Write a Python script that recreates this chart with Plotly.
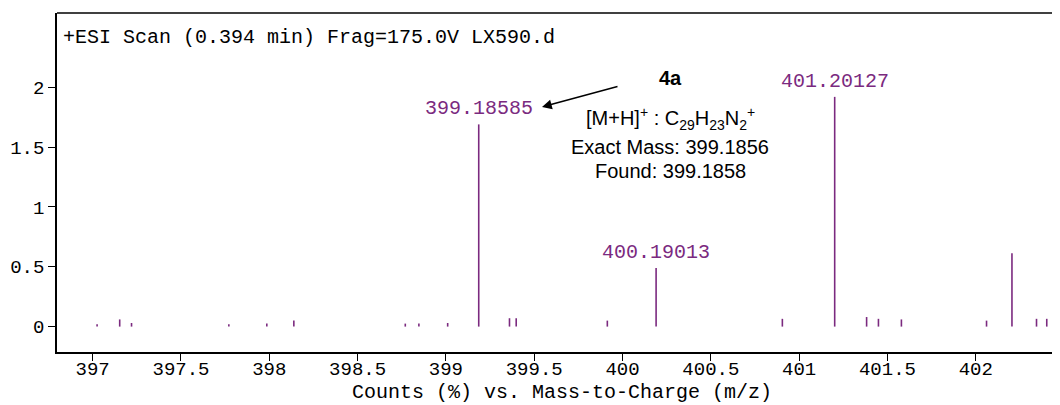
import plotly.graph_objects as go

# ---- data ----
main_mz = [399.18585, 400.19013, 401.20127, 402.205]
main_h = [1.69, 0.49, 1.92, 0.612]
main_labels = ["399.18585", "400.19013", "401.20127", ""]

small_mz = [397.025, 397.153, 397.22, 397.771, 397.986, 398.139, 398.770, 398.847,
            399.01, 399.36, 399.398, 399.914, 400.905, 401.382, 401.449, 401.579,
            402.061, 402.344, 402.402, 402.459]
small_h = [0.02, 0.06, 0.03, 0.02, 0.025, 0.05, 0.025, 0.025,
           0.03, 0.07, 0.07, 0.05, 0.065, 0.08, 0.065, 0.06,
           0.05, 0.065, 0.065, 0.065]

x_ticks = [397, 397.5, 398, 398.5, 399, 399.5, 400, 400.5, 401, 401.5, 402]
x_ticklabels = ["397", "397.5", "398", "398.5", "399", "399.5", "400", "400.5", "401", "401.5", "402"]
y_ticks = [0, 0.5, 1, 1.5, 2]
y_ticklabels = ["0", "0.5", "1", "1.5", "2"]

PURPLE = "#7b2a7f"
MONO = "Liberation Mono"
SANS = "Liberation Sans"

# page offset (body margin) and figure geometry
OFF = 8
W, H = 1060 - OFF, 405 - OFF
L, T, B, R = 49, 5, 53, 0
PW, PH = W - L - R, H - T - B


def px(x):
    return (x - OFF - L) / PW


def py(y):
    return 1 - (y - OFF - T) / PH


all_mz = small_mz + main_mz
all_h = small_h + main_h
xs, ys = [], []
for m, h in zip(all_mz, all_h):
    xs += [m, m, None]
    ys += [0, h, None]

fig = go.Figure()
fig.add_trace(go.Scatter(x=xs, y=ys, mode="lines",
                         line=dict(color=PURPLE, width=1.6),
                         hoverinfo="skip", showlegend=False))

annotations = []
for m, h, lab in zip(main_mz, main_h, main_labels):
    if lab:
        annotations.append(dict(x=m, y=h, xref="x", yref="y", text=lab,
                                showarrow=False, xanchor="center", yanchor="bottom", yshift=2,
                                font=dict(family=MONO, size=20, color=PURPLE)))

# scan header inside plot
annotations.append(dict(x=px(61), y=py(37), xref="paper", yref="paper",
                        xanchor="left", yanchor="middle", showarrow=False,
                        text="+ESI Scan (0.394 min) Frag=175.0V LX590.d",
                        font=dict(family=MONO, size=20, color="black")))

# compound annotation
for txt, yy in [("<b>4a</b>", 78),
                ("[M+H]<sup>+</sup> : C<sub>29</sub>H<sub>23</sub>N<sub>2</sub><sup>+</sup>", 118),
                ("Exact Mass: 399.1856", 146.5),
                ("Found: 399.1858", 171)]:
    annotations.append(dict(x=px(670), y=py(yy), xref="paper", yref="paper",
                            xanchor="center", yanchor="middle", showarrow=False,
                            text=txt, font=dict(family=SANS, size=20, color="black")))

# x-axis title
annotations.append(dict(x=px(562), y=py(392), xref="paper", yref="paper",
                        xanchor="center", yanchor="middle", showarrow=False,
                        text="Counts (%) vs. Mass-to-Charge (m/z)",
                        font=dict(family=MONO, size=20, color="black")))

# arrow
annotations.append(dict(x=px(542), y=py(107), xref="paper", yref="paper",
                        ax=619 - 542, ay=86 - 107, axref="pixel", ayref="pixel",
                        showarrow=True, arrowhead=2, arrowsize=1.3, arrowwidth=1.5,
                        arrowcolor="black", text=""))

fig.update_layout(
    width=W, height=H,
    margin=dict(l=L, r=R, t=T, b=B, pad=0),
    paper_bgcolor="white", plot_bgcolor="white",
    annotations=annotations,
    xaxis=dict(range=[396.798, 402.477], tickvals=x_ticks, ticktext=x_ticklabels,
               showgrid=False, zeroline=False, showline=True, linecolor="black", linewidth=2,
               ticks="outside", ticklen=7, tickcolor="black", tickwidth=1,
               ticklabelstandoff=-9,
               tickfont=dict(family=MONO, size=19, color="black")),
    yaxis=dict(range=[-0.2123, 2.621], tickvals=y_ticks, ticktext=y_ticklabels,
               showgrid=False, zeroline=False, showline=True, linecolor="black", linewidth=1.5,
               ticks="outside", ticklen=7, tickcolor="black", tickwidth=1,
               tickfont=dict(family=MONO, size=19, color="black")),
    shapes=[dict(type="line", xref="paper", yref="paper", x0=0, x1=1, y0=1, y1=1,
                 line=dict(color="black", width=1.5))],
)

fig.write_html("out.html")
